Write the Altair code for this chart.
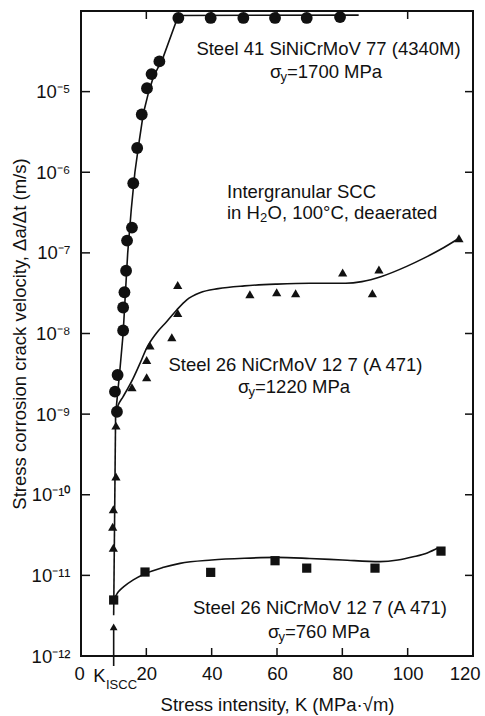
import altair as alt
import pandas as pd

# ---------------- data ----------------
# Steel 41 SiNiCrMoV 77 (4340M), sigma_y = 1700 MPa  -> circles
circle_K = [10.4, 11.0, 11.2, 12.9, 12.9, 13.3, 13.8, 14.1, 15.6, 16.0, 17.2, 18.6,
            20.2, 21.6, 24.0, 29.8, 39.7, 49.7, 59.4, 69.1, 79.3]
circle_v = [1.9e-9, 1.07e-9, 3.06e-9, 1.09e-8, 2.1e-8, 3.25e-8, 6.0e-8, 1.42e-7,
            2.06e-7, 7.3e-7, 2.0e-6, 5.2e-6, 1.1e-5, 1.65e-5, 2.37e-5, 8.2e-5,
            8.2e-5, 8.2e-5, 8.2e-5, 8.2e-5, 8.4e-5]

# Steel 26 NiCrMoV 12 7 (A 471), sigma_y = 1220 MPa -> triangles
triangle_K = [9.9, 9.7, 9.9, 10.7, 10.7, 15.6, 20.1, 20.1, 21.1, 27.8, 29.6, 29.6,
              51.7, 59.9, 65.7, 80.1, 89.2, 91.2, 115.7]
triangle_v = [6.6e-11, 4.0e-11, 2.2e-11, 1.68e-10, 7.2e-10, 2.15e-9, 2.87e-9, 4.7e-9,
              7.1e-9, 9.0e-9, 1.79e-8, 4.0e-8, 3.07e-8, 3.25e-8, 3.15e-8, 5.7e-8,
              3.15e-8, 6.2e-8, 1.52e-7]

# Steel 26 NiCrMoV 12 7 (A 471), sigma_y = 760 MPa -> squares
square_K = [10.0, 19.6, 39.7, 59.4, 69.1, 90.0, 110.2]
square_v = [4.95e-12, 1.1e-11, 1.09e-11, 1.52e-11, 1.23e-11, 1.23e-11, 2.0e-11]

# hand-drawn trend curves
circle_fit_K = [10.6, 11.9, 12.9, 13.6, 14.3, 15.4, 16.5, 17.8, 19.1, 20.6, 22.1, 25.2, 29.8, 85.0]
circle_fit_v = [1.0e-9, 3.5e-9, 1.0e-8, 3.2e-8, 1.0e-7, 3.5e-7, 1.0e-6, 2.4e-6, 5.4e-6,
                9.5e-6, 1.5e-5, 2.7e-5, 8.8e-5, 8.9e-5]

threshold_K = [10.0, 10.6]
threshold_v = [3.2e-12, 1.05e-9]

triangle_fit_K = [10.6, 11.4, 12.9, 16.0, 18.1, 20.1, 23.0, 26.2, 29.3, 32.3, 36.4, 42.0,
                  50.0, 60.0, 70.0, 81.0, 86.0, 92.0, 99.7, 105.0, 110.0, 115.5]
triangle_fit_v = [1.05e-9, 1.3e-9, 1.65e-9, 2.8e-9, 4.3e-9, 6.6e-9, 1.0e-8, 1.4e-8, 1.96e-8,
                  2.6e-8, 3.2e-8, 3.6e-8, 3.9e-8, 4.1e-8, 4.2e-8, 4.2e-8, 4.4e-8, 5.1e-8,
                  6.8e-8, 8.6e-8, 1.1e-7, 1.5e-7]

square_fit_K = [10.0, 11.5, 13.0, 16.0, 19.6, 25.0, 30.3, 40.0, 50.0, 59.9, 70.0, 80.0,
                91.5, 97.0, 101.7, 106.0, 109.4]
square_fit_v = [5.0e-12, 6.3e-12, 7.2e-12, 8.8e-12, 1.05e-11, 1.25e-11, 1.41e-11, 1.55e-11,
                1.63e-11, 1.67e-11, 1.62e-11, 1.55e-11, 1.48e-11, 1.55e-11, 1.7e-11,
                1.9e-11, 2.2e-11]

k_iscc_K = [10.0]
k_iscc_arrow_v = [2.3e-12]

# axes
x_tick_values = [0, 20, 40, 60, 80, 100, 120]
x_inner_ticks = [20, 40, 60, 80, 100]
y_tick_values = [1e-12, 1e-11, 1e-10, 1e-9, 1e-8, 1e-7, 1e-6, 1e-5]
y_tick_labels = ['10⁻¹²', '10⁻¹¹', '10⁻¹⁰', '10⁻⁹', '10⁻⁸', '10⁻⁷', '10⁻⁶', '10⁻⁵']
y_inner_ticks = [1e-11, 1e-10, 1e-9, 1e-8, 1e-7, 1e-6, 1e-5]

# ---------------- styling ----------------
FONT = 'Liberation Sans'
INK = '#111111'
FS = 18.5
W, H = 392, 645

x_scale = alt.Scale(domain=[0, 120], nice=False, zero=False)
y_scale = alt.Scale(type='log', domain=[1e-12, 1e-4], nice=False)

label_expr = str(y_tick_labels).replace('"', "'") + "[round(log(datum.value)/LN10) + 12]"

x_axis = alt.Axis(values=x_tick_values, ticks=False, domain=False, grid=False,
                  labelFont=FONT, labelFontSize=FS, labelColor=INK, labelPadding=8,
                  labelFlush=True, labelFlushOffset=7, labelOverlap=False,
                  title='Stress intensity, K (MPa·√m)', titleFont=FONT, titleFontSize=FS,
                  titleFontWeight='normal', titleColor=INK, titleBaseline='middle',
                  titleX=W / 2, titleY=48)
y_axis = alt.Axis(values=y_tick_values, labelExpr=label_expr, ticks=False, domain=False,
                  grid=False, labelFont=FONT, labelFontSize=FS, labelColor=INK,
                  labelPadding=11, labelOverlap=False, labelFlush=False,
                  title='Stress corrosion crack velocity, Δa/Δt (m/s)', titleFont=FONT,
                  titleFontSize=FS, titleFontWeight='normal', titleColor=INK,
                  titleBaseline='middle', titleX=-62, titleY=H / 2)


def df(K, v):
    return pd.DataFrame({'K': K, 'v': v})


def xenc():
    return alt.X('K:Q', scale=x_scale, axis=x_axis)


def yenc():
    return alt.Y('v:Q', scale=y_scale, axis=y_axis)


LW = 1.6

circles = alt.Chart(df(circle_K, circle_v)).mark_point(
    shape='circle', filled=True, size=140, color=INK, opacity=1
).encode(x=xenc(), y=yenc())

triangles = alt.Chart(df(triangle_K, triangle_v)).mark_point(
    shape='triangle-up', filled=True, size=85, color=INK, opacity=1
).encode(x=xenc(), y=yenc())

squares = alt.Chart(df(square_K, square_v)).mark_point(
    shape='square', filled=True, size=85, color=INK, opacity=1
).encode(x=xenc(), y=yenc())

circle_fit = alt.Chart(df(circle_fit_K, circle_fit_v)).mark_line(
    color=INK, strokeWidth=LW, interpolate='linear'
).encode(x=xenc(), y=yenc(), order='K:Q')

threshold = alt.Chart(df(threshold_K, threshold_v)).mark_line(
    color=INK, strokeWidth=LW
).encode(x=xenc(), y=yenc())

triangle_fit = alt.Chart(df(triangle_fit_K, triangle_fit_v)).mark_line(
    color=INK, strokeWidth=LW, interpolate='monotone'
).encode(x=xenc(), y=yenc())

square_fit = alt.Chart(df(square_fit_K, square_fit_v)).mark_line(
    color=INK, strokeWidth=LW, interpolate='monotone'
).encode(x=xenc(), y=yenc())

arrow_df = df(k_iscc_K, k_iscc_arrow_v)
arrow_shaft = alt.Chart(arrow_df).mark_rule(color=INK, strokeWidth=LW).encode(
    x=xenc(), y=yenc(), y2=alt.value(H + 10))
arrow_head = alt.Chart(arrow_df).mark_point(
    shape='triangle-up', filled=True, size=60, color=INK, opacity=1
).encode(x=xenc(), y=yenc())

# inward ticks on all four sides
tick_x_df = pd.DataFrame({'K': x_inner_ticks})
tick_y_df = pd.DataFrame({'v': y_inner_ticks})
TL = 8
bottom_ticks = alt.Chart(tick_x_df).mark_rule(color=INK, strokeWidth=1.5).encode(
    x=xenc(), y=alt.value(H), y2=alt.value(H - TL))
top_ticks = alt.Chart(tick_x_df).mark_rule(color=INK, strokeWidth=1.5).encode(
    x=xenc(), y=alt.value(0), y2=alt.value(TL))
left_ticks = alt.Chart(tick_y_df).mark_rule(color=INK, strokeWidth=1.5).encode(
    y=yenc(), x=alt.value(0), x2=alt.value(TL + 1))
right_ticks = alt.Chart(tick_y_df).mark_rule(color=INK, strokeWidth=1.5).encode(
    y=yenc(), x=alt.value(W), x2=alt.value(W - TL))

one = pd.DataFrame({'a': [0]})


def txt(s, x, y, size=FS, align='left'):
    return alt.Chart(one).mark_text(
        font=FONT, fontSize=size, align=align, baseline='middle', color=INK
    ).encode(x=alt.value(x), y=alt.value(y), text=alt.value(s))


SUB = 13
texts = [
    txt('Steel 41 SiNiCrMoV 77 (4340M)', 247.5, 38, align='center'),
    txt('σ', 189, 61), txt('y', 199.5, 66, size=SUB), txt('=1700 MPa', 206, 61),
    txt('Intergranular SCC', 146, 181),
    txt('in H', 146, 202), txt('2', 179, 207, size=SUB), txt('O, 100°C, deaerated', 186.5, 202),
    txt('Steel 26 NiCrMoV 12 7 (A 471)', 214.5, 354, align='center'),
    txt('σ', 157, 376), txt('y', 167.5, 381, size=SUB), txt('=1220 MPa', 174, 376),
    txt('Steel 26 NiCrMoV 12 7 (A 471)', 239, 597, align='center'),
    txt('σ', 187, 621), txt('y', 197.5, 626, size=SUB), txt('=760 MPa', 204, 621),
    txt('K', 24.5, 665, align='right'), txt('ISCC', 25, 674, size=SUB),
]

chart = alt.layer(
    circles, circle_fit, threshold, triangle_fit, square_fit,
    triangles, squares, arrow_shaft, arrow_head,
    bottom_ticks, top_ticks, left_ticks, right_ticks,
    *texts
).properties(
    width=W, height=H,
    autosize=alt.AutoSizeParams(type='none'),
    padding={'left': 81, 'top': 11, 'right': 12, 'bottom': 60},
    background='white'
).configure_view(stroke=INK, strokeWidth=2)

chart.save('out.html', embed_options={'renderer': 'svg', 'actions': False})
